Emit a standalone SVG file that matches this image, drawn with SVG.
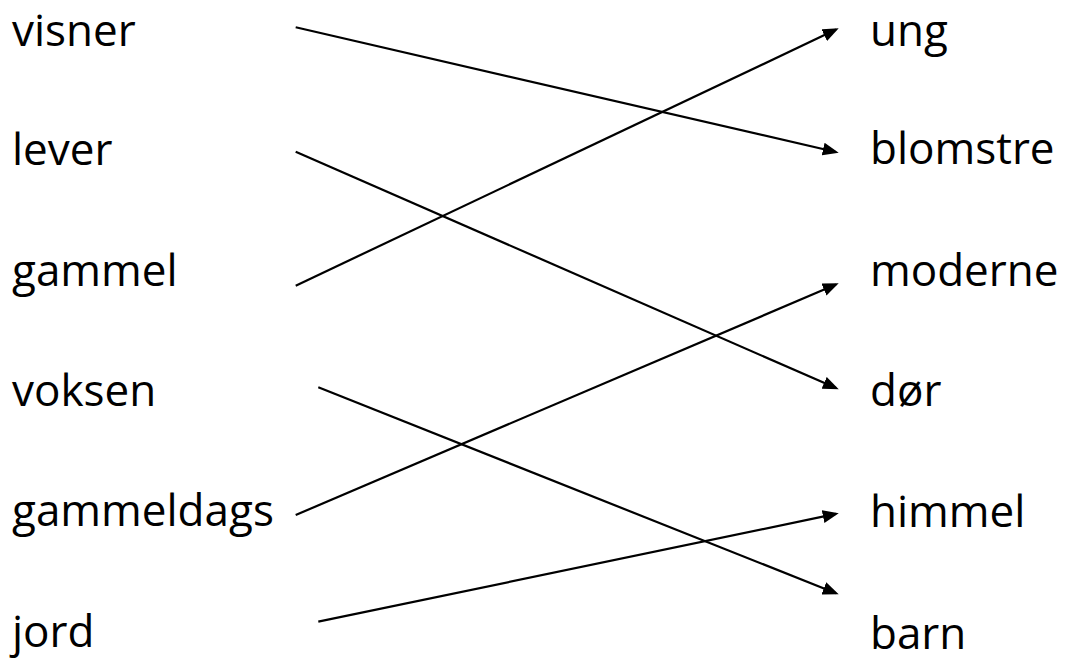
<svg xmlns="http://www.w3.org/2000/svg" width="1072" height="664" viewBox="0 0 1072 664">
  <style>
    .lbl { font-family: "Comic Sans MS", "Open Sans", "Liberation Sans", sans-serif; font-size: 44px; fill: #000; }
    .conn { stroke: #000; stroke-width: 2.2; fill: none; marker-end: url(#arrow); }
  </style>
  <defs>
    <marker id="arrow" markerUnits="userSpaceOnUse" markerWidth="16" markerHeight="13" refX="13" refY="6.5" orient="auto">
      <path d="M0,0 L16,6.5 L0,13 z" fill="#000"/>
    </marker>
  </defs>
  <rect width="1072" height="664" fill="#fff"/>
  <g id="left-visner"><text class="lbl" x="12" y="46">visner</text></g>
  <g id="left-lever"><text class="lbl" x="12" y="165">lever</text></g>
  <g id="left-gammel"><text class="lbl" x="12" y="286">gammel</text></g>
  <g id="left-voksen"><text class="lbl" x="12" y="406">voksen</text></g>
  <g id="left-gammeldags"><text class="lbl" x="12" y="526">gammeldags</text></g>
  <g id="left-jord"><text class="lbl" x="12" y="647">jord</text></g>
  <g id="right-ung"><text class="lbl" x="870" y="46">ung</text></g>
  <g id="right-blomstre"><text class="lbl" x="870" y="164">blomstre</text></g>
  <g id="right-moderne"><text class="lbl" x="870" y="286">moderne</text></g>
  <g id="right-dor"><text class="lbl" x="870" y="406">dør</text></g>
  <g id="right-himmel"><text class="lbl" x="870" y="527">himmel</text></g>
  <g id="right-barn"><text class="lbl" x="870" y="649">barn</text></g>
  <g id="connectors">
    <line class="conn" x1="295.7" y1="27.3" x2="835.8" y2="152.0"/>
    <line class="conn" x1="295.7" y1="151.7" x2="836.0" y2="388.1"/>
    <line class="conn" x1="295.7" y1="285.7" x2="836.0" y2="29.6"/>
    <line class="conn" x1="318.3" y1="387.3" x2="835.9" y2="593.2"/>
    <line class="conn" x1="295.7" y1="515" x2="835.9" y2="284.5"/>
    <line class="conn" x1="318.3" y1="621.7" x2="835.8" y2="513.9"/>
  </g>
</svg>
